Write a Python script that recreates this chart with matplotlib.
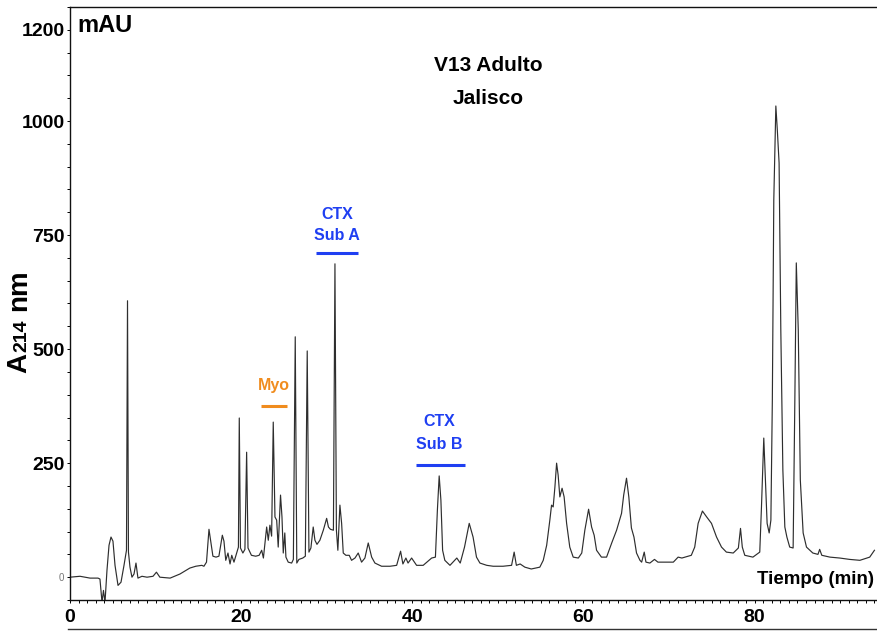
import matplotlib.pyplot as plt
from matplotlib.lines import Line2D
from matplotlib.ticker import MultipleLocator

plt.rcParams["font.family"] = ["Liberation Sans", "DejaVu Sans"]

# Cromatograma RP-HPLC (tiempo en min, absorbancia en mAU)
tiempo = [
    0.0, 1.17, 2.34, 3.27, 3.50, 3.74, 3.91, 4.09, 4.32, 4.56,
    4.79, 5.02, 5.26, 5.61, 5.96, 6.31, 6.60, 6.72, 6.83, 7.01,
    7.24, 7.48, 7.71, 7.94, 8.41, 9.00, 9.70, 10.1, 10.5, 11.7,
    12.85, 14.0, 14.7, 15.4, 15.65, 15.95, 16.24, 16.47, 16.7, 17.06,
    17.4, 17.8, 17.99, 18.2, 18.46, 18.7, 18.9, 19.16, 19.5, 19.68,
    19.78, 19.92, 20.2, 20.44, 20.64, 20.8, 21.2, 21.7, 22.1, 22.4,
    22.6, 22.98, 23.17, 23.36, 23.56, 23.75, 23.95, 24.15, 24.33, 24.6,
    24.77, 24.92, 25.1, 25.23, 25.5, 25.9, 26.1, 26.32, 26.5, 26.75,
    27.2, 27.5, 27.72, 27.92, 28.15, 28.42, 28.62, 28.86, 29.2, 29.6,
    29.99, 30.2, 30.43, 30.78, 30.96, 31.13, 31.3, 31.54, 31.74, 31.93,
    32.24, 32.63, 32.9, 33.3, 33.68, 34.07, 34.46, 34.85, 35.25, 35.63,
    36.41, 37.4, 38.17, 38.63, 38.9, 39.25, 39.5, 39.92, 40.5, 41.27,
    42.26, 42.7, 42.93, 43.14, 43.34, 43.54, 43.8, 44.4, 45.2, 45.6,
    46.1, 46.65, 47.1, 47.5, 47.9, 48.7, 49.45, 50.6, 51.6, 51.9,
    52.16, 52.6, 53.15, 53.9, 54.9, 55.3, 55.7, 56.07, 56.27, 56.46,
    56.66, 56.86, 57.04, 57.24, 57.5, 57.74, 58.03, 58.4, 58.8, 59.4,
    59.8, 60.16, 60.6, 60.95, 61.25, 61.53, 62.1, 62.7, 63.3, 63.87,
    64.45, 64.7, 65.03, 65.3, 65.6, 65.9, 66.2, 66.6, 66.8, 67.1,
    67.3, 67.76, 68.3, 68.7, 69.3, 70.1, 70.5, 71.06, 71.5, 72.6,
    73.0, 73.4, 73.9, 74.4, 74.96, 75.55, 76.13, 76.7, 77.5, 78.1,
    78.35, 78.56, 78.85, 79.8, 80.6, 80.8, 81.07, 81.3, 81.46, 81.7,
    81.9, 82.07, 82.24, 82.48, 82.65, 82.86, 83.06, 83.3, 83.53, 83.77,
    84.1, 84.5, 84.7, 84.87, 85.1, 85.34, 85.67, 86.06, 86.8, 87.4,
    87.6, 87.85, 88.8, 89.95, 91.1, 92.3, 93.45, 94.0,
]
absorbancia = [
    0, 2, -2, -2, -4, -55, -29, -55, 15, 70,
    88, 79, 26, -18, -11, 26, 59, 606, 55, 22,
    0, 7, 31, -2, 2, 0, 2, 11, 0, -2,
    7, 20, 24, 26, 24, 33, 105, 75, 46, 44,
    46, 92, 79, 37, 53, 29, 48, 33, 55, 66,
    349, 64, 53, 61, 274, 64, 48, 46, 48, 59,
    42, 110, 81, 114, 90, 340, 132, 125, 66, 180,
    132, 53, 97, 44, 33, 31, 39, 527, 31, 39,
    42, 46, 496, 55, 64, 110, 81, 72, 81, 103,
    129, 110, 105, 103, 687, 103, 59, 158, 118, 53,
    48, 48, 37, 42, 53, 33, 42, 75, 44, 31,
    24, 24, 26, 57, 29, 42, 31, 42, 26, 26,
    42, 44, 147, 222, 169, 59, 37, 26, 42, 31,
    66, 118, 88, 44, 31, 26, 24, 24, 26, 55,
    26, 29, 22, 18, 22, 37, 70, 125, 158, 154,
    197, 250, 224, 176, 195, 176, 118, 66, 44, 42,
    53, 103, 149, 110, 92, 59, 44, 44, 75, 103,
    140, 180, 217, 176, 108, 88, 53, 37, 33, 55,
    33, 31, 39, 33, 33, 33, 33, 44, 42, 48,
    66, 118, 145, 132, 118, 88, 66, 55, 53, 64,
    107, 66, 48, 44, 55, 154, 305, 197, 118, 97,
    125, 388, 827, 1033, 981, 908, 542, 235, 110, 88,
    66, 64, 388, 689, 542, 213, 97, 66, 53, 50,
    61, 48, 44, 42, 39, 37, 44, 59,
]

yticks = [0, 250, 500, 750, 1000, 1200]
xticks = [0, 20, 40, 60, 80]

fig = plt.figure(figsize=(8.77, 6.32), dpi=100)
ax = fig.add_axes([70 / 877, 1 - 600 / 632, 807 / 877, 593 / 632])

ax.plot(tiempo, absorbancia, color="#2e2e2e", lw=0.85)

ax.set_xlim(0, 94.3)
ax.set_ylim(-50, 1250)

ax.set_yticks(yticks)
ax.set_yticklabels([str(v) for v in yticks], fontsize=14, fontweight="bold")
ax.set_xticks(xticks)
ax.set_xticklabels([str(v) for v in xticks], fontsize=14, fontweight="bold")
ax.yaxis.set_minor_locator(MultipleLocator(50))
ax.xaxis.set_minor_locator(MultipleLocator(1))
ax.tick_params(axis="y", which="both", direction="out", length=2.5, width=0.7, pad=1.5)
ax.tick_params(axis="x", which="both", direction="out", length=2.5, width=0.7, pad=4)

for lab in ax.get_yticklabels():
    if lab.get_text() == "0":
        lab.set_fontsize(7)
        lab.set_fontweight("normal")
        lab.set_color("#777777")

ax.spines["right"].set_visible(False)
for s in ["left", "bottom", "top"]:
    ax.spines[s].set_linewidth(1.0)
    ax.spines[s].set_color("#111111")

# textos de ejes
ax.text(0.009, 0.968, "mAU", transform=ax.transAxes, fontsize=17,
        fontweight="bold", ha="left", va="center")
ax.text(0.996, 0.034, "Tiempo (min)", transform=ax.transAxes, fontsize=13.5,
        fontweight="bold", ha="right", va="center")

# etiqueta vertical A214 nm, armada por partes
fig.text(19 / 877, 1 - 373 / 632, "A", rotation=90, fontsize=20,
         fontweight="bold", ha="center", va="bottom")
fig.text(22 / 877, 1 - 352 / 632, "214", rotation=90, fontsize=14,
         fontweight="bold", ha="center", va="bottom")
fig.text(19 / 877, 1 - 311 / 632, "nm", rotation=90, fontsize=20,
         fontweight="bold", ha="center", va="bottom")

# titulo
ax.text(0.518, 0.902, "V13 Adulto", transform=ax.transAxes, fontsize=15,
        fontweight="bold", ha="center", va="center")
ax.text(0.518, 0.846, "Jalisco", transform=ax.transAxes, fontsize=15,
        fontweight="bold", ha="center", va="center")

# fracciones identificadas
azul = "#1f3ff2"
naranja = "#f08c1e"
ax.text(31.2, 796, "CTX", color=azul, fontsize=11.5, fontweight="bold", ha="center", va="center")
ax.text(31.2, 749, "Sub A", color=azul, fontsize=11.5, fontweight="bold", ha="center", va="center")
ax.hlines(710, 28.8, 33.7, color=azul, lw=2.2)

ax.text(23.8, 421, "Myo", color=naranja, fontsize=11.5, fontweight="bold", ha="center", va="center")
ax.hlines(375, 22.3, 25.4, color=naranja, lw=2.2)

ax.text(43.1, 341, "CTX", color=azul, fontsize=11.5, fontweight="bold", ha="center", va="center")
ax.text(43.1, 291, "Sub B", color=azul, fontsize=11.5, fontweight="bold", ha="center", va="center")
ax.hlines(247, 40.4, 46.1, color=azul, lw=2.2)

# borde del panel inferior
fig.add_artist(Line2D([68 / 877, 1], [1 - 629 / 632, 1 - 629 / 632],
                      color="#333333", lw=1.0))

fig.savefig("out.png", dpi=100)
